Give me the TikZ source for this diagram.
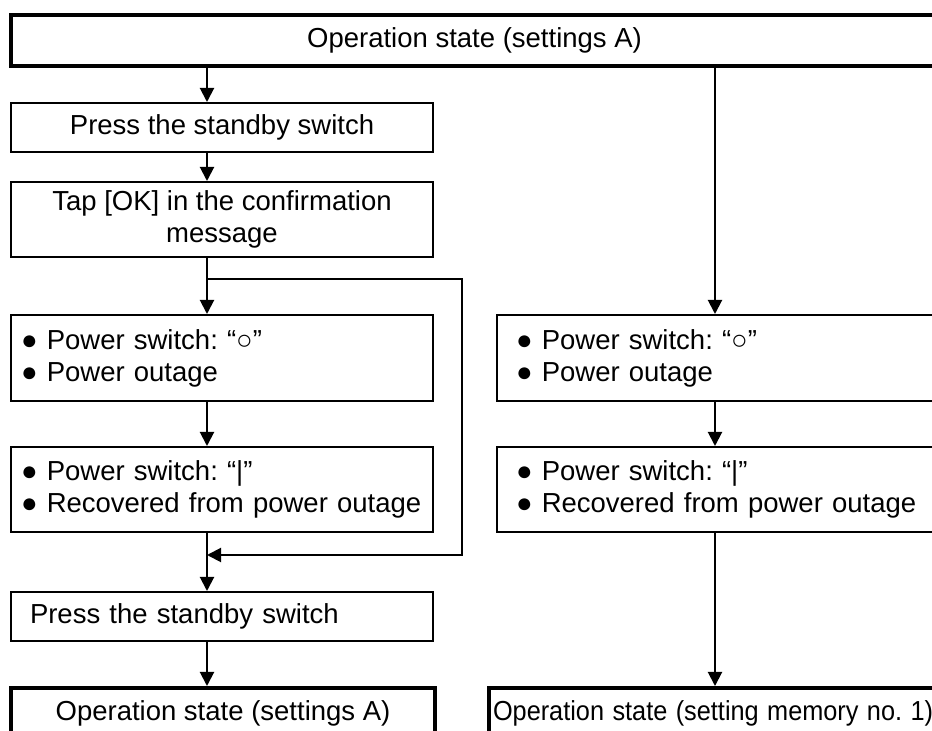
\documentclass[tikz,border=0pt]{standalone}
\usepackage{fontspec}
\setmainfont{Liberation Sans}
\usetikzlibrary{positioning,arrows.meta}
\tikzset{
  box/.style={draw,line width=1pt,anchor=north west,minimum width=211pt,inner sep=0pt,align=center},
  lbox/.style={box,text width=201pt,inner xsep=5pt,align=left},
  rbox/.style={box,minimum width=225pt,text width=206pt,inner xsep=9.5pt,align=left},
  state/.style={box,line width=2pt},
  arr/.style={-{Triangle[width=7pt,length=7pt]},line width=1pt},
}
\begin{document}
\frenchspacing
\begin{tikzpicture}[x=0.5pt,y=-0.5pt,font=\fontsize{13.75pt}{16pt}\selectfont]
\useasboundingbox (0,0) rectangle (932,731);
\coordinate (colL) at (207,0);
\coordinate (colR) at (715,0);
\coordinate (loopR) at (462,0);
\node[state,minimum width=463.5pt,minimum height=25.5pt] (opA) at (9,13) {Operation state (settings A)};
\node[box,minimum height=24.5pt] (press1) at (10,102) {Press the standby switch};
\node[box,minimum height=37.5pt] (tap) at (10,181) {Tap [OK] in the confirmation\\message};
\node[lbox,minimum height=43pt] (pw1L) at (10,314) {● Power switch: “○”\\● Power outage};
\node[lbox,minimum height=42.5pt] (pw2L) at (10,446) {● Power switch: “|”\\● Recovered from power outage};
\node[box,text width=192pt,inner xsep=9.5pt,align=left,minimum height=24.5pt] (press2) at (10,591) {Press the standby switch};
\node[state,minimum width=212pt,minimum height=25pt] (opA2) at (9,686) {Operation state (settings A)};
\node[rbox,minimum height=43pt] (pw1R) at (496,314) {● Power switch: “○”\\● Power outage};
\node[rbox,minimum height=42.5pt] (pw2R) at (496,446) {● Power switch: “|”\\● Recovered from power outage};
\node[state,minimum width=226pt,minimum height=25pt,text width=222pt,inner xsep=1.5pt,align=left] (opM) at (487,686) {\scalebox{0.92}[1]{Operation state (setting memory no. 1)}};
\coordinate (brA) at (207,279);
\coordinate (mrg) at (207,555);
\draw[arr] (opA.south -| colL) -- (press1.north -| colL);
\draw[arr] (press1.south -| colL) -- (tap.north -| colL);
\draw[arr] (tap.south -| colL) -- (pw1L.north -| colL);
\draw[arr] (brA) -| (loopR |- mrg) -- (mrg);
\draw[arr] (pw1L.south -| colL) -- (pw2L.north -| colL);
\draw[arr] (pw2L.south -| colL) -- (press2.north -| colL);
\draw[arr] (press2.south -| colL) -- (opA2.north -| colL);
\draw[arr] (opA.south -| colR) -- (pw1R.north -| colR);
\draw[arr] (pw1R.south -| colR) -- (pw2R.north -| colR);
\draw[arr] (pw2R.south -| colR) -- (opM.north -| colR);
\end{tikzpicture}
\end{document}
